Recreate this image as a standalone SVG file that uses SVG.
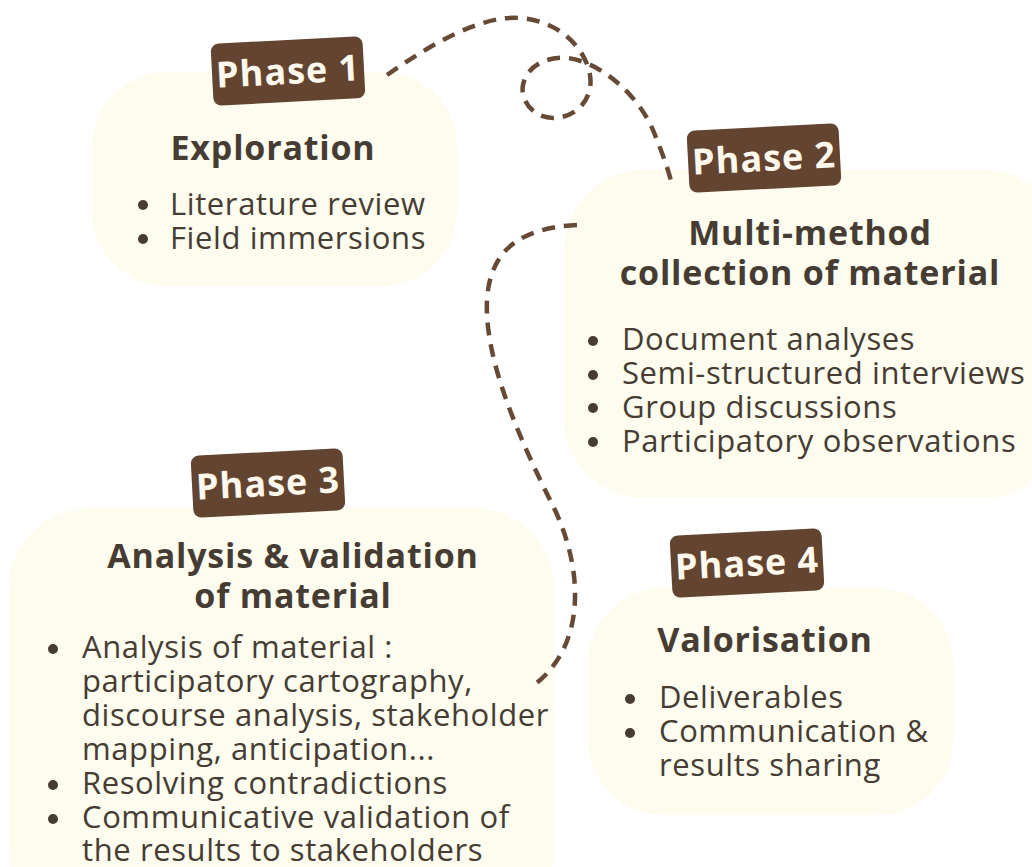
<svg xmlns="http://www.w3.org/2000/svg" width="1032" height="867" viewBox="0 0 1032 867">
<style>
.blob{fill:#FDFCEF}
.tag{fill:#634430}
.tagt{fill:#FFF8EC;font-family:"Open Sans","Noto Sans",sans-serif;font-weight:700;font-size:36px;letter-spacing:1px;text-anchor:middle}
.title{fill:#463C33;font-family:"Open Sans","Noto Sans",sans-serif;font-weight:700;font-size:34px;letter-spacing:0.8px;text-anchor:middle}
.body{fill:#463C33;font-family:"Open Sans","Noto Sans",sans-serif;font-size:31px;letter-spacing:0.6px}
.dot{fill:#463C33}
.dash{fill:none;stroke:#664A35;stroke-width:4.5;stroke-dasharray:13 9}
</style>
<rect width="1032" height="867" fill="#FFFFFF"/>
<g id="phase1">
<rect class="blob" x="92" y="72" width="365" height="214" rx="75"/>
<g transform="rotate(-3 287 71)">
<rect class="tag" x="212" y="40" width="152" height="62" rx="8"/>
<text class="tagt" x="288" y="84">Phase 1</text>
</g>
<text class="title" x="273" y="160">Exploration</text>
<circle class="dot" cx="143" cy="205" r="5"/>
<text class="body" x="170" y="215">Literature review</text>
<circle class="dot" cx="143" cy="239" r="5"/>
<text class="body" x="170" y="249">Field immersions</text>
</g>
<g id="phase2">
<rect class="blob" x="564" y="170" width="500" height="328" rx="80"/>
<g transform="rotate(-3 764 158)">
<rect class="tag" x="688" y="127" width="152" height="62" rx="8"/>
<text class="tagt" x="764" y="171">Phase 2</text>
</g>
<text class="title" x="810" y="245">Multi-method</text>
<text class="title" x="810" y="285">collection of material</text>
<circle class="dot" cx="593" cy="341" r="5"/>
<text class="body" x="622" y="350">Document analyses</text>
<circle class="dot" cx="593" cy="375" r="5"/>
<text class="body" x="622" y="384">Semi-structured interviews</text>
<circle class="dot" cx="593" cy="408" r="5"/>
<text class="body" x="622" y="418">Group discussions</text>
<circle class="dot" cx="593" cy="442" r="5"/>
<text class="body" x="622" y="452">Participatory observations</text>
</g>
<g id="phase3">
<rect class="blob" x="9" y="508" width="545" height="420" rx="80"/>
<g transform="rotate(-3 268 483)">
<rect class="tag" x="192" y="452" width="152" height="62" rx="8"/>
<text class="tagt" x="268" y="496">Phase 3</text>
</g>
<text class="title" x="293" y="568">Analysis &amp; validation</text>
<text class="title" x="293" y="608">of material</text>
<circle class="dot" cx="53" cy="649" r="5"/>
<text class="body" x="82" y="658">Analysis of material :</text>
<text class="body" x="82" y="692">participatory cartography,</text>
<text class="body" x="82" y="726">discourse analysis, stakeholder</text>
<text class="body" x="82" y="760">mapping, anticipation...</text>
<circle class="dot" cx="53" cy="785" r="5"/>
<text class="body" x="82" y="794">Resolving contradictions</text>
<circle class="dot" cx="53" cy="819" r="5"/>
<text class="body" x="82" y="828">Communicative validation of</text>
<text class="body" x="82" y="861">the results to stakeholders</text>
</g>
<g id="phase4">
<rect class="blob" x="588" y="588" width="365" height="227" rx="75"/>
<g transform="rotate(-3 747 563)">
<rect class="tag" x="671" y="532" width="152" height="62" rx="8"/>
<text class="tagt" x="747" y="576">Phase 4</text>
</g>
<text class="title" x="765" y="652">Valorisation</text>
<circle class="dot" cx="630" cy="699" r="5"/>
<text class="body" x="659" y="708">Deliverables</text>
<circle class="dot" cx="630" cy="733" r="5"/>
<text class="body" x="659" y="742">Communication &amp;</text>
<text class="body" x="659" y="776">results sharing</text>
</g>
<g id="connectors">
<path class="dash" d="M387,75 C430,45 480,15 520,18 C555,20 585,45 590,75 C594,100 575,118 553,118 C533,118 520,100 523,85 C527,65 548,56 568,58 C600,62 640,95 655,135 C665,160 670,175 672,186"/>
<path class="dash" d="M577,225 C520,228 490,250 487,300 C484,360 520,440 555,510 C585,575 585,650 530,688"/>
</g>
</svg>
